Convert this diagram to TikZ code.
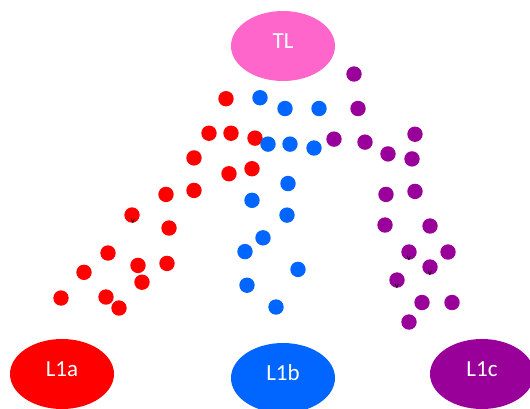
\documentclass[tikz,border=0pt]{standalone}
\usepackage{fontspec}
\setmainfont{Carlito}
\usepackage{xcolor}
\usetikzlibrary{shapes.geometric,positioning}
\definecolor{tlpink}{RGB}{255,102,204}
\definecolor{lred}{RGB}{255,0,0}
\definecolor{lblue}{RGB}{0,102,255}
\definecolor{lpurple}{RGB}{153,0,153}
\tikzset{
    layer/.style={ellipse, minimum width=104pt, minimum height=70pt, inner sep=0pt,
        text=white, text height=15pt, text depth=10pt, font=\fontsize{23}{26}\selectfont},
    vmark/.style={font=\fontsize{9}{9}\selectfont, text=black, inner sep=0pt}
}

\begin{document}
\begin{tikzpicture}[x=1pt, y=-1pt]
    \useasboundingbox (0,0) rectangle (530,408);

    % Layers
    \node [layer, fill=tlpink] (tl) at (283,46) {TL};
    \node [layer, fill=lred] (l1a) at (62,374) {L1a};
    \node [layer, fill=lblue] (l1b) at (283,378) {L1b};
    \node [layer, fill=lpurple] (l1c) at (482,374) {L1c};

    % Red dots
    \foreach \x/\y in {226/98.7, 209/133.2, 231/133.2, 255/138.1, 194/157.9, 229/173.7,
        252/168.7, 166/194.4, 194/190.4, 132/215, 169/228, 108/253, 138/265.4,
        167/263.4, 84/272.3, 142/282.2, 61/298, 106/297, 119/308}
        \fill [lred] (\x,\y) circle (7.7);
    % Blue dots
    \foreach \x/\y in {260/97.7, 285/108.5, 319/108.5, 268/144.1, 290/144.1, 314/148,
        288/183.5, 252/200.3, 287/215.1, 263/237.8, 245/251.6, 298/269.4, 247/285.2,
        276/307}
        \fill [lblue] (\x,\y) circle (7.7);
    % Purple dots
    \foreach \x/\y in {354/74, 358/108.5, 334/139.1, 365/142.1, 415/134.2, 388/153.9,
        412/158.9, 386/194.4, 415/191.4, 385/225, 430/226, 409/252, 448/252,
        430/267, 397/280, 422/302.5, 452/302.5, 409/322}
        \fill [lpurple] (\x,\y) circle (7.7);

    % Small marks
    \node [vmark] (va) at (133,221) {v};
    \node [vmark] (vb) at (409,258) {v};
    \node [vmark] (vc) at (430,273.5) {v};
    \node [vmark] (vd) at (397,286.5) {v};

\end{tikzpicture}
\end{document}
